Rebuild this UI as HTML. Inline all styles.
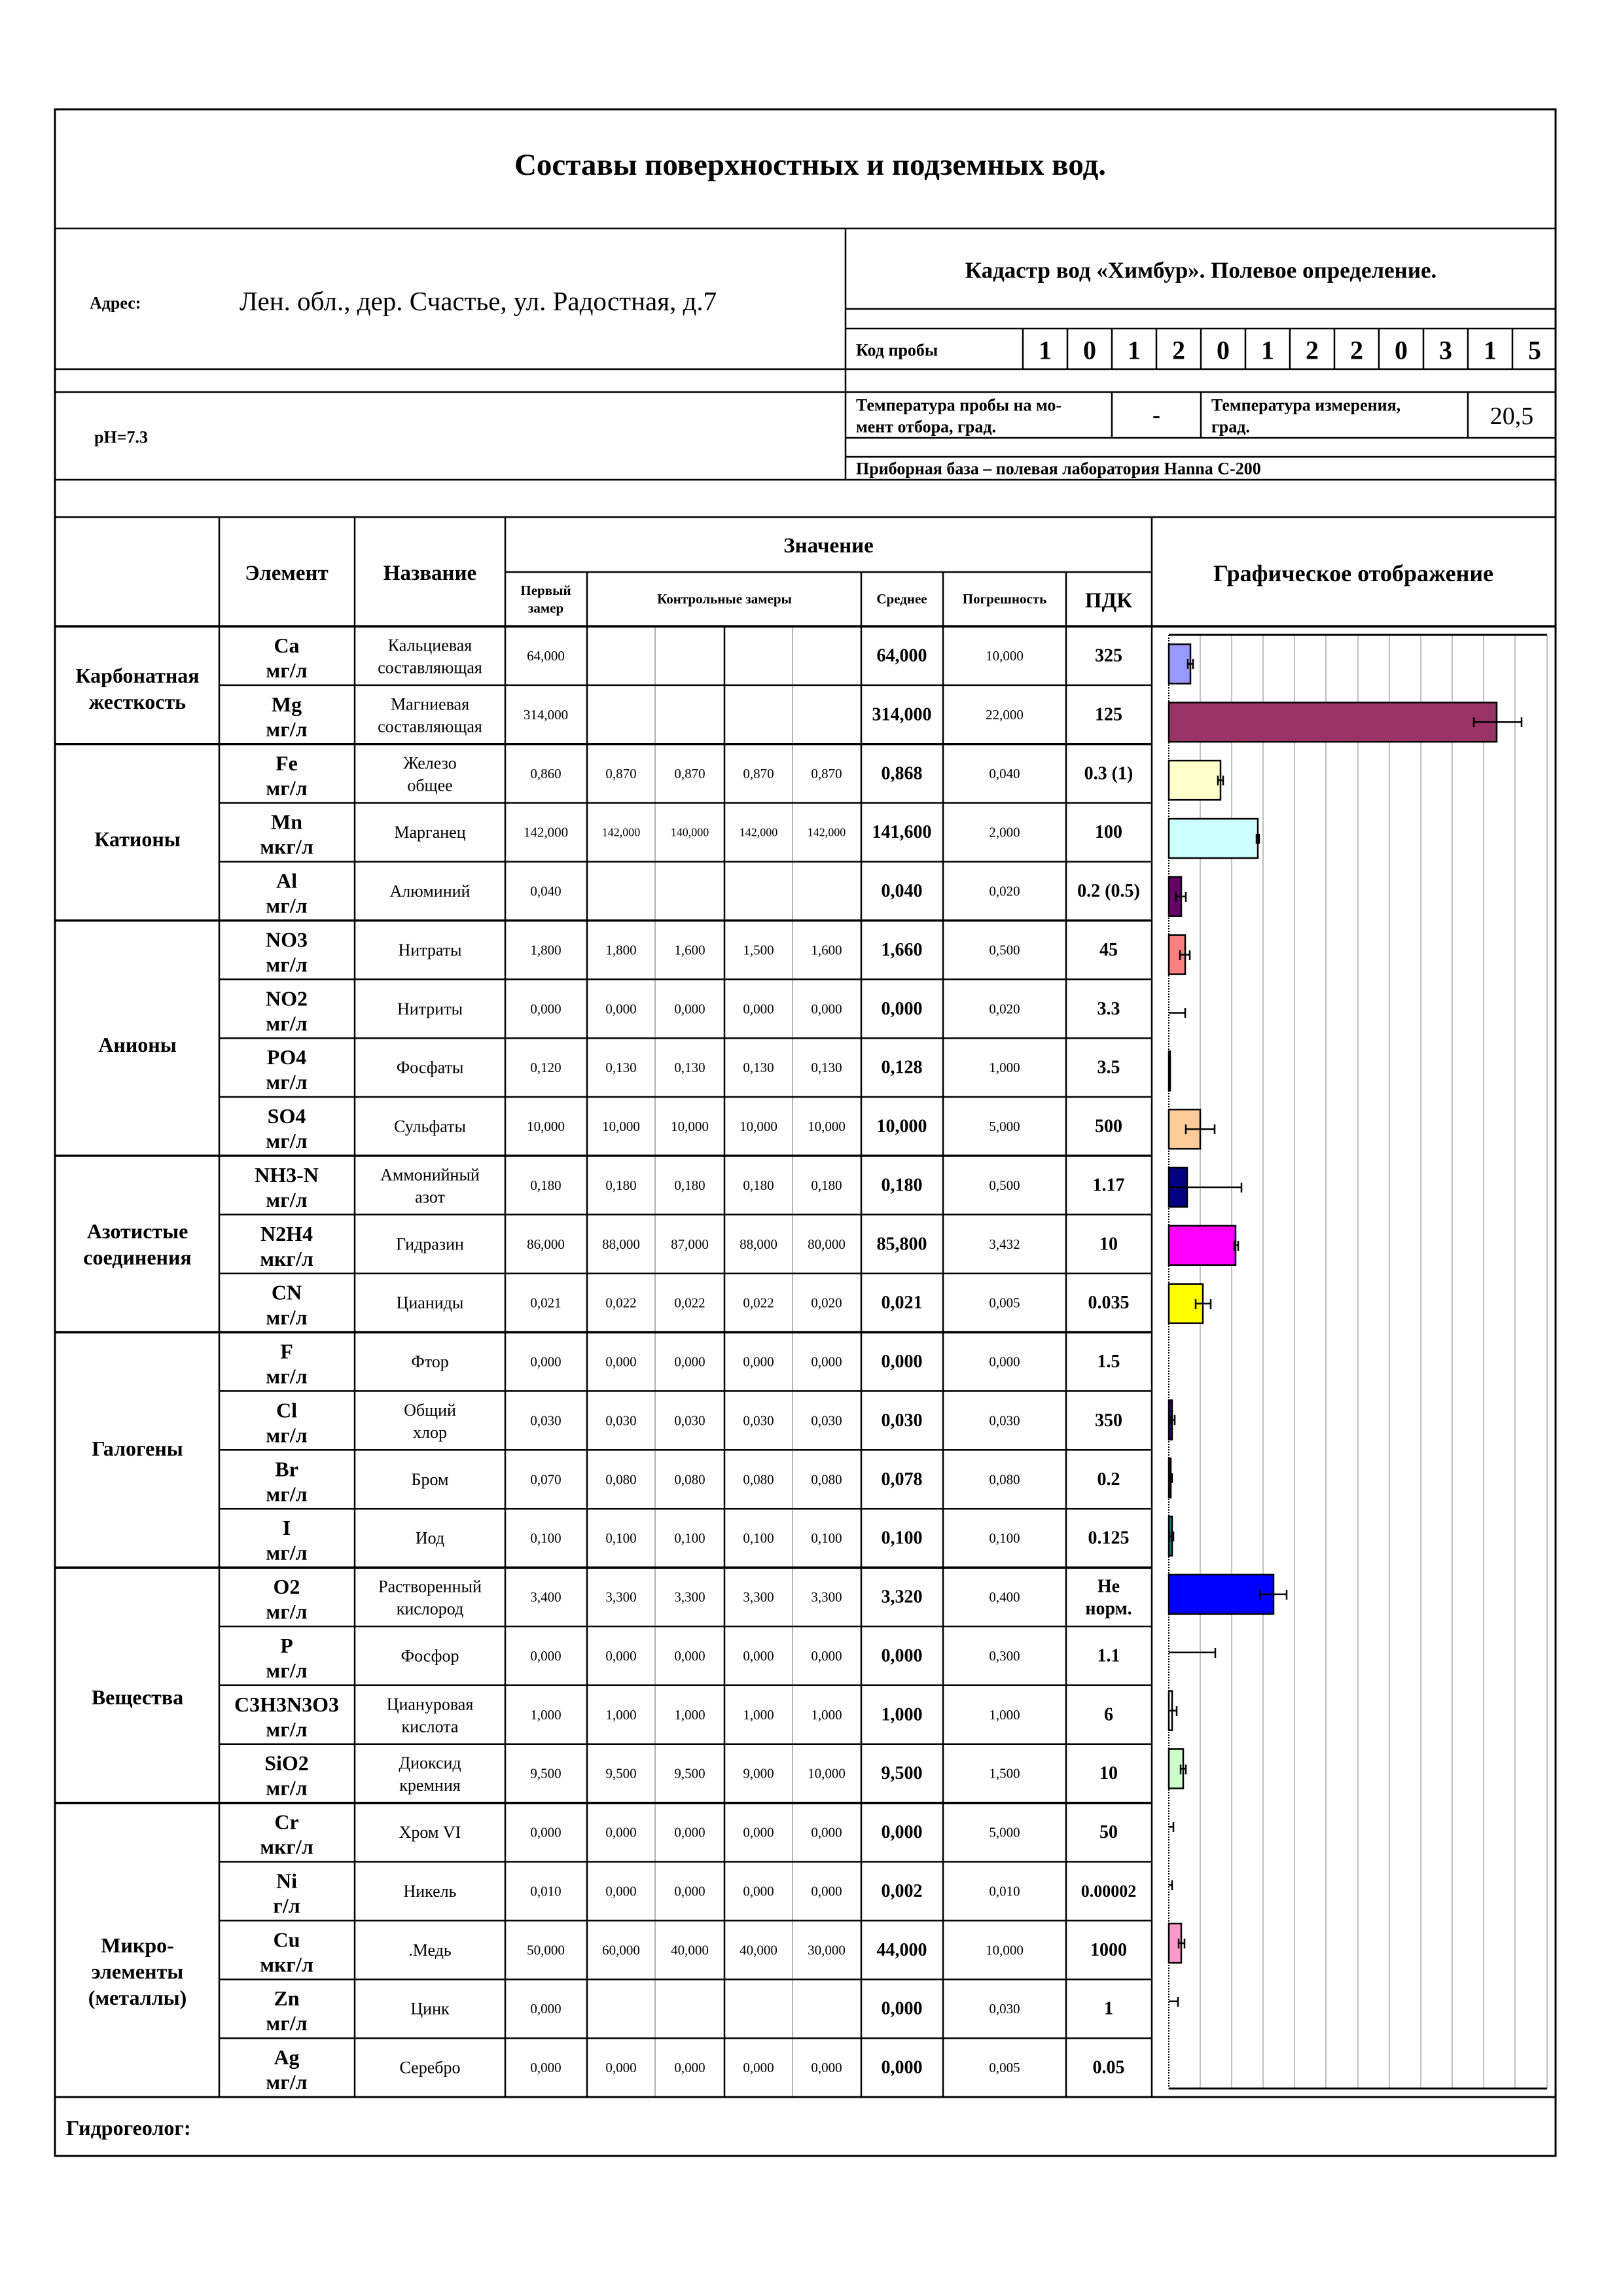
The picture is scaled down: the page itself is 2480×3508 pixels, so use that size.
<!DOCTYPE html>
<html><head><meta charset="utf-8"><style>
html,body{margin:0;padding:0;background:#fff}
svg{display:block}
text{font-family:"Liberation Serif",serif;fill:#000;dominant-baseline:central;text-anchor:middle}
.b{font-weight:bold}
</style></head><body>
<svg width="2480" height="3508" viewBox="0 0 2480 3508" xmlns="http://www.w3.org/2000/svg">
<g stroke="#000" stroke-width="2.5" fill="none">
<rect x="84" y="167" width="2293" height="3127" stroke-width="3"/>
<line x1="84" y1="349" x2="2377" y2="349"/>
<line x1="1292" y1="349" x2="1292" y2="733"/>
<line x1="1292" y1="472" x2="2377" y2="472"/>
<line x1="1292" y1="502" x2="2377" y2="502"/>
<line x1="84" y1="564" x2="2377" y2="564"/>
<line x1="84" y1="599" x2="2377" y2="599"/>
<line x1="1292" y1="669" x2="2377" y2="669"/>
<line x1="1292" y1="698" x2="2377" y2="698"/>
<line x1="84" y1="733" x2="2377" y2="733"/>
<line x1="84" y1="790" x2="2377" y2="790"/>
<line x1="1563" y1="502" x2="1563" y2="564"/>
<line x1="1631" y1="502" x2="1631" y2="564"/><line x1="1699" y1="502" x2="1699" y2="564"/><line x1="1767" y1="502" x2="1767" y2="564"/><line x1="1835" y1="502" x2="1835" y2="564"/><line x1="1903" y1="502" x2="1903" y2="564"/><line x1="1971" y1="502" x2="1971" y2="564"/><line x1="2039" y1="502" x2="2039" y2="564"/><line x1="2107" y1="502" x2="2107" y2="564"/><line x1="2175" y1="502" x2="2175" y2="564"/><line x1="2243" y1="502" x2="2243" y2="564"/><line x1="2311" y1="502" x2="2311" y2="564"/>
<line x1="1699" y1="599" x2="1699" y2="669"/><line x1="1835" y1="599" x2="1835" y2="669"/><line x1="2243" y1="599" x2="2243" y2="669"/>
<line x1="335" y1="790" x2="335" y2="3204"/>
<line x1="542" y1="790" x2="542" y2="3204"/>
<line x1="772" y1="790" x2="772" y2="3204"/>
<line x1="772" y1="874" x2="1760" y2="874"/>
<line x1="897" y1="874" x2="897" y2="3204"/>
<line x1="1316" y1="874" x2="1316" y2="3204"/>
<line x1="1441" y1="874" x2="1441" y2="3204"/>
<line x1="1629" y1="874" x2="1629" y2="3204"/>
<line x1="1760" y1="790" x2="1760" y2="3204"/>
<g stroke="#999" stroke-width="1.5"><line x1="1001" y1="957" x2="1001" y2="3204"/><line x1="1211" y1="957" x2="1211" y2="3204"/></g>
<line x1="1107" y1="957" x2="1107" y2="3204"/>
<line x1="84" y1="957" x2="2377" y2="957" stroke-width="3.5"/>
<g>
<line x1="335" y1="1046.9" x2="1760" y2="1046.9"/>
<line x1="335" y1="1226.6" x2="1760" y2="1226.6"/><line x1="335" y1="1316.5" x2="1760" y2="1316.5"/>
<line x1="335" y1="1496.3" x2="1760" y2="1496.3"/><line x1="335" y1="1586.2" x2="1760" y2="1586.2"/><line x1="335" y1="1676" x2="1760" y2="1676"/>
<line x1="335" y1="1855.8" x2="1760" y2="1855.8"/><line x1="335" y1="1945.7" x2="1760" y2="1945.7"/>
<line x1="335" y1="2125.4" x2="1760" y2="2125.4"/><line x1="335" y1="2215.3" x2="1760" y2="2215.3"/><line x1="335" y1="2305.2" x2="1760" y2="2305.2"/>
<line x1="335" y1="2485" x2="1760" y2="2485"/><line x1="335" y1="2574.8" x2="1760" y2="2574.8"/><line x1="335" y1="2664.7" x2="1760" y2="2664.7"/>
<line x1="335" y1="2844.5" x2="1760" y2="2844.5"/><line x1="335" y1="2934.4" x2="1760" y2="2934.4"/><line x1="335" y1="3024.2" x2="1760" y2="3024.2"/><line x1="335" y1="3114.1" x2="1760" y2="3114.1"/>
</g>
<g stroke-width="3.5">
<line x1="84" y1="1136.8" x2="1760" y2="1136.8"/><line x1="84" y1="1406.4" x2="1760" y2="1406.4"/><line x1="84" y1="1765.9" x2="1760" y2="1765.9"/><line x1="84" y1="2035.6" x2="1760" y2="2035.6"/><line x1="84" y1="2395.1" x2="1760" y2="2395.1"/><line x1="84" y1="2754.6" x2="1760" y2="2754.6"/>
</g>
<line x1="84" y1="3204" x2="2377" y2="3204" stroke-width="3"/>
</g>
<g stroke="#c0c0c0" stroke-width="2">
<line x1="1834" y1="970" x2="1834" y2="3191"/><line x1="1882" y1="970" x2="1882" y2="3191"/><line x1="1930" y1="970" x2="1930" y2="3191"/><line x1="1978" y1="970" x2="1978" y2="3191"/><line x1="2026" y1="970" x2="2026" y2="3191"/><line x1="2075" y1="970" x2="2075" y2="3191"/><line x1="2123" y1="970" x2="2123" y2="3191"/><line x1="2171" y1="970" x2="2171" y2="3191"/><line x1="2219" y1="970" x2="2219" y2="3191"/><line x1="2267" y1="970" x2="2267" y2="3191"/><line x1="2315" y1="970" x2="2315" y2="3191"/><line x1="2364" y1="970" x2="2364" y2="3191"/>
</g>
<line x1="1786" y1="970" x2="2364" y2="970" stroke="#000" stroke-width="3"/>
<line x1="1786" y1="3191" x2="2364" y2="3191" stroke="#000" stroke-width="3"/>
<line x1="1786" y1="970" x2="1786" y2="3191" stroke="#000" stroke-width="2" stroke-dasharray="2,2"/>
<g stroke="#000" stroke-width="2.5">
<rect x="1786" y="984.4" width="33" height="60" fill="#9999ff"/>
<rect x="1786" y="1073.3" width="501" height="60" fill="#993366"/>
<rect x="1786" y="1162.1" width="79" height="60" fill="#ffffcc"/>
<rect x="1786" y="1251" width="136" height="60" fill="#ccffff"/>
<rect x="1786" y="1339.8" width="19" height="60" fill="#660066"/>
<rect x="1786" y="1428.6" width="25" height="60" fill="#ff8080"/>
<rect x="1786" y="1606.3" width="2" height="60" fill="#fff"/>
<rect x="1786" y="1695.2" width="48" height="60" fill="#ffcc99"/>
<rect x="1786" y="1784" width="28" height="60" fill="#000080"/>
<rect x="1786" y="1872.8" width="102" height="60" fill="#ff00ff"/>
<rect x="1786" y="1961.7" width="52" height="60" fill="#ffff00"/>
<rect x="1786" y="2139.4" width="5" height="60" fill="#330066"/>
<rect x="1786" y="2228.2" width="3" height="60" fill="#800000"/>
<rect x="1786" y="2317" width="5" height="60" fill="#008080"/>
<rect x="1786" y="2405.9" width="160" height="60" fill="#0000ff"/>
<rect x="1786" y="2583.6" width="5" height="60" fill="#fff"/>
<rect x="1786" y="2672.4" width="22" height="60" fill="#ccffcc"/>
<rect x="1786" y="2939" width="19" height="60" fill="#ff99cc"/>
</g>
<g stroke="#000" stroke-width="2.5" fill="none">
<path d="M1815 1014.4H1823M1815 1007v15M1823 1007v15"/>
<path d="M2252 1103.3H2325M2252 1096v15M2325 1096v15"/>
<path d="M1861 1192.1H1869M1861 1185v15M1869 1185v15"/>
<path d="M1920 1281H1924M1920 1274v15M1924 1274v15"/>
<path d="M1797 1369.8H1812M1797 1363v15M1812 1363v15"/>
<path d="M1803 1458.6H1818M1803 1452v15M1818 1452v15"/>
<path d="M1786 1547.5H1811M1811 1540v15"/>
<path d="M1812 1725.2H1856M1812 1718v15M1856 1718v15"/>
<path d="M1786 1814H1897M1897 1807v15"/>
<path d="M1886 1902.8H1892M1886 1896v15M1892 1896v15"/>
<path d="M1827 1991.7H1850M1827 1985v15M1850 1985v15"/>
<path d="M1789 2169.4H1795M1789 2162v15M1795 2162v15"/>
<path d="M1787 2258.2H1791M1787 2251v15M1791 2251v15"/>
<path d="M1787 2347H1793M1787 2340v15M1793 2340v15"/>
<path d="M1925 2435.9H1966M1925 2429v15M1966 2429v15"/>
<path d="M1786 2524.7H1857M1857 2518v15"/>
<path d="M1786 2613.6H1798M1798 2607v15"/>
<path d="M1804 2702.4H1812M1804 2696v15M1812 2696v15"/>
<path d="M1786 2791.2H1793M1793 2784v15"/>
<path d="M1786 2880.1H1791M1791 2873v15"/>
<path d="M1801 2969H1810M1801 2962v15M1810 2962v15"/>
<path d="M1786 3057.8H1800M1800 3051v15"/>
</g>
<text x="1238" y="252" class="b" font-size="47">Составы поверхностных и подземных вод.</text>
<text x="137" y="463" class="b" font-size="26" style="text-anchor:start">Адрес:</text>
<text x="366" y="460" font-size="41" style="text-anchor:start">Лен. обл., дер. Счастье, ул. Радостная, д.7</text>
<text x="1835" y="413" class="b" font-size="35">Кадастр вод «Химбур». Полевое определение.</text>
<text x="1308" y="535" class="b" font-size="26" style="text-anchor:start">Код пробы</text>
<g class="b" font-size="40">
<text x="1597" y="535">1</text><text x="1665" y="535">0</text><text x="1733" y="535">1</text><text x="1801" y="535">2</text><text x="1869" y="535">0</text><text x="1937" y="535">1</text><text x="2005" y="535">2</text><text x="2073" y="535">2</text><text x="2141" y="535">0</text><text x="2209" y="535">3</text><text x="2277" y="535">1</text><text x="2345" y="535">5</text>
</g>
<g class="b" font-size="26" style="text-anchor:start">
<text x="1308" y="619" style="text-anchor:start">Температура пробы на мо-</text>
<text x="1308" y="652" style="text-anchor:start">мент отбора, град.</text>
<text x="1851" y="619" style="text-anchor:start">Температура измерения,</text>
<text x="1851" y="652" style="text-anchor:start">град.</text>
<text x="1308" y="716" style="text-anchor:start">Приборная база – полевая лаборатория Hanna C-200</text>
</g>
<text x="1767" y="634" class="b" font-size="36">-</text>
<text x="2310" y="636" font-size="38">20,5</text>
<text x="144" y="668" class="b" font-size="26" style="text-anchor:start">pH=7.3</text>
<text x="1266" y="834" class="b" font-size="33">Значение</text>
<text x="438" y="876" class="b" font-size="33">Элемент</text>
<text x="657" y="876" class="b" font-size="33">Название</text>
<text x="2068" y="876" class="b" font-size="36">Графическое отображение</text>
<g class="b" font-size="21">
<text x="834" y="902">Первый</text><text x="834" y="929">замер</text>
<text x="1107" y="915">Контрольные замеры</text>
<text x="1378" y="915">Среднее</text>
<text x="1535" y="915">Погрешность</text>
</g>
<text x="1694" y="918" class="b" font-size="33">ПДК</text>
<g class="b" font-size="32">
<text x="210" y="1032">Карбонатная</text><text x="210" y="1072">жесткость</text>
<text x="210" y="1282">Катионы</text>
<text x="210" y="1596">Анионы</text>
<text x="210" y="1881">Азотистые</text><text x="210" y="1921">соединения</text>
<text x="210" y="2213">Галогены</text>
<text x="210" y="2593">Вещества</text>
<text x="210" y="2972">Микро-</text><text x="210" y="3012">элементы</text><text x="210" y="3052">(металлы)</text>
</g>
<text x="101" y="3251" class="b" font-size="32" style="text-anchor:start">Гидрогеолог:</text>
<g id="rows">
<g transform="translate(0,957)"><text x="438" y="29" class="b" font-size="32">Ca</text><text x="438" y="67" class="b" font-size="32">мг/л</text><text x="657" y="29" font-size="26">Кальциевая</text><text x="657" y="63" font-size="26">составляющая</text><text x="834" y="45" font-size="21">64,000</text><text x="1378" y="45" class="b" font-size="28">64,000</text><text x="1535" y="45" font-size="21">10,000</text><text x="1694" y="45" class="b" font-size="28">325</text></g>
<g transform="translate(0,1046.9)"><text x="438" y="29" class="b" font-size="32">Mg</text><text x="438" y="67" class="b" font-size="32">мг/л</text><text x="657" y="29" font-size="26">Магниевая</text><text x="657" y="63" font-size="26">составляющая</text><text x="834" y="45" font-size="21">314,000</text><text x="1378" y="45" class="b" font-size="28">314,000</text><text x="1535" y="45" font-size="21">22,000</text><text x="1694" y="45" class="b" font-size="28">125</text></g>
<g transform="translate(0,1136.8)"><text x="438" y="29" class="b" font-size="32">Fe</text><text x="438" y="67" class="b" font-size="32">мг/л</text><text x="657" y="29" font-size="26">Железо</text><text x="657" y="63" font-size="26">общее</text><text x="834" y="45" font-size="21">0,860</text><text x="949" y="45" font-size="21">0,870</text><text x="1054" y="45" font-size="21">0,870</text><text x="1159" y="45" font-size="21">0,870</text><text x="1263" y="45" font-size="21">0,870</text><text x="1378" y="45" class="b" font-size="28">0,868</text><text x="1535" y="45" font-size="21">0,040</text><text x="1694" y="45" class="b" font-size="28">0.3 (1)</text></g>
<g transform="translate(0,1226.6)"><text x="438" y="29" class="b" font-size="32">Mn</text><text x="438" y="67" class="b" font-size="32">мкг/л</text><text x="657" y="45" font-size="26">Марганец</text><text x="834" y="45" font-size="21">142,000</text><text x="949" y="45" font-size="18">142,000</text><text x="1054" y="45" font-size="18">140,000</text><text x="1159" y="45" font-size="18">142,000</text><text x="1263" y="45" font-size="18">142,000</text><text x="1378" y="45" class="b" font-size="28">141,600</text><text x="1535" y="45" font-size="21">2,000</text><text x="1694" y="45" class="b" font-size="28">100</text></g>
<g transform="translate(0,1316.5)"><text x="438" y="29" class="b" font-size="32">Al</text><text x="438" y="67" class="b" font-size="32">мг/л</text><text x="657" y="45" font-size="26">Алюминий</text><text x="834" y="45" font-size="21">0,040</text><text x="1378" y="45" class="b" font-size="28">0,040</text><text x="1535" y="45" font-size="21">0,020</text><text x="1694" y="45" class="b" font-size="28">0.2 (0.5)</text></g>
<g transform="translate(0,1406.4)"><text x="438" y="29" class="b" font-size="32">NO3</text><text x="438" y="67" class="b" font-size="32">мг/л</text><text x="657" y="45" font-size="26">Нитраты</text><text x="834" y="45" font-size="21">1,800</text><text x="949" y="45" font-size="21">1,800</text><text x="1054" y="45" font-size="21">1,600</text><text x="1159" y="45" font-size="21">1,500</text><text x="1263" y="45" font-size="21">1,600</text><text x="1378" y="45" class="b" font-size="28">1,660</text><text x="1535" y="45" font-size="21">0,500</text><text x="1694" y="45" class="b" font-size="28">45</text></g>
<g transform="translate(0,1496.3)"><text x="438" y="29" class="b" font-size="32">NO2</text><text x="438" y="67" class="b" font-size="32">мг/л</text><text x="657" y="45" font-size="26">Нитриты</text><text x="834" y="45" font-size="21">0,000</text><text x="949" y="45" font-size="21">0,000</text><text x="1054" y="45" font-size="21">0,000</text><text x="1159" y="45" font-size="21">0,000</text><text x="1263" y="45" font-size="21">0,000</text><text x="1378" y="45" class="b" font-size="28">0,000</text><text x="1535" y="45" font-size="21">0,020</text><text x="1694" y="45" class="b" font-size="28">3.3</text></g>
<g transform="translate(0,1586.2)"><text x="438" y="29" class="b" font-size="32">PO4</text><text x="438" y="67" class="b" font-size="32">мг/л</text><text x="657" y="45" font-size="26">Фосфаты</text><text x="834" y="45" font-size="21">0,120</text><text x="949" y="45" font-size="21">0,130</text><text x="1054" y="45" font-size="21">0,130</text><text x="1159" y="45" font-size="21">0,130</text><text x="1263" y="45" font-size="21">0,130</text><text x="1378" y="45" class="b" font-size="28">0,128</text><text x="1535" y="45" font-size="21">1,000</text><text x="1694" y="45" class="b" font-size="28">3.5</text></g>
<g transform="translate(0,1676)"><text x="438" y="29" class="b" font-size="32">SO4</text><text x="438" y="67" class="b" font-size="32">мг/л</text><text x="657" y="45" font-size="26">Сульфаты</text><text x="834" y="45" font-size="21">10,000</text><text x="949" y="45" font-size="21">10,000</text><text x="1054" y="45" font-size="21">10,000</text><text x="1159" y="45" font-size="21">10,000</text><text x="1263" y="45" font-size="21">10,000</text><text x="1378" y="45" class="b" font-size="28">10,000</text><text x="1535" y="45" font-size="21">5,000</text><text x="1694" y="45" class="b" font-size="28">500</text></g>
<g transform="translate(0,1765.9)"><text x="438" y="29" class="b" font-size="32">NH3-N</text><text x="438" y="67" class="b" font-size="32">мг/л</text><text x="657" y="29" font-size="26">Аммонийный</text><text x="657" y="63" font-size="26">азот</text><text x="834" y="45" font-size="21">0,180</text><text x="949" y="45" font-size="21">0,180</text><text x="1054" y="45" font-size="21">0,180</text><text x="1159" y="45" font-size="21">0,180</text><text x="1263" y="45" font-size="21">0,180</text><text x="1378" y="45" class="b" font-size="28">0,180</text><text x="1535" y="45" font-size="21">0,500</text><text x="1694" y="45" class="b" font-size="28">1.17</text></g>
<g transform="translate(0,1855.8)"><text x="438" y="29" class="b" font-size="32">N2H4</text><text x="438" y="67" class="b" font-size="32">мкг/л</text><text x="657" y="45" font-size="26">Гидразин</text><text x="834" y="45" font-size="21">86,000</text><text x="949" y="45" font-size="21">88,000</text><text x="1054" y="45" font-size="21">87,000</text><text x="1159" y="45" font-size="21">88,000</text><text x="1263" y="45" font-size="21">80,000</text><text x="1378" y="45" class="b" font-size="28">85,800</text><text x="1535" y="45" font-size="21">3,432</text><text x="1694" y="45" class="b" font-size="28">10</text></g>
<g transform="translate(0,1945.7)"><text x="438" y="29" class="b" font-size="32">CN</text><text x="438" y="67" class="b" font-size="32">мг/л</text><text x="657" y="45" font-size="26">Цианиды</text><text x="834" y="45" font-size="21">0,021</text><text x="949" y="45" font-size="21">0,022</text><text x="1054" y="45" font-size="21">0,022</text><text x="1159" y="45" font-size="21">0,022</text><text x="1263" y="45" font-size="21">0,020</text><text x="1378" y="45" class="b" font-size="28">0,021</text><text x="1535" y="45" font-size="21">0,005</text><text x="1694" y="45" class="b" font-size="28">0.035</text></g>
<g transform="translate(0,2035.6)"><text x="438" y="29" class="b" font-size="32">F</text><text x="438" y="67" class="b" font-size="32">мг/л</text><text x="657" y="45" font-size="26">Фтор</text><text x="834" y="45" font-size="21">0,000</text><text x="949" y="45" font-size="21">0,000</text><text x="1054" y="45" font-size="21">0,000</text><text x="1159" y="45" font-size="21">0,000</text><text x="1263" y="45" font-size="21">0,000</text><text x="1378" y="45" class="b" font-size="28">0,000</text><text x="1535" y="45" font-size="21">0,000</text><text x="1694" y="45" class="b" font-size="28">1.5</text></g>
<g transform="translate(0,2125.4)"><text x="438" y="29" class="b" font-size="32">Cl</text><text x="438" y="67" class="b" font-size="32">мг/л</text><text x="657" y="29" font-size="26">Общий</text><text x="657" y="63" font-size="26">хлор</text><text x="834" y="45" font-size="21">0,030</text><text x="949" y="45" font-size="21">0,030</text><text x="1054" y="45" font-size="21">0,030</text><text x="1159" y="45" font-size="21">0,030</text><text x="1263" y="45" font-size="21">0,030</text><text x="1378" y="45" class="b" font-size="28">0,030</text><text x="1535" y="45" font-size="21">0,030</text><text x="1694" y="45" class="b" font-size="28">350</text></g>
<g transform="translate(0,2215.3)"><text x="438" y="29" class="b" font-size="32">Br</text><text x="438" y="67" class="b" font-size="32">мг/л</text><text x="657" y="45" font-size="26">Бром</text><text x="834" y="45" font-size="21">0,070</text><text x="949" y="45" font-size="21">0,080</text><text x="1054" y="45" font-size="21">0,080</text><text x="1159" y="45" font-size="21">0,080</text><text x="1263" y="45" font-size="21">0,080</text><text x="1378" y="45" class="b" font-size="28">0,078</text><text x="1535" y="45" font-size="21">0,080</text><text x="1694" y="45" class="b" font-size="28">0.2</text></g>
<g transform="translate(0,2305.2)"><text x="438" y="29" class="b" font-size="32">I</text><text x="438" y="67" class="b" font-size="32">мг/л</text><text x="657" y="45" font-size="26">Иод</text><text x="834" y="45" font-size="21">0,100</text><text x="949" y="45" font-size="21">0,100</text><text x="1054" y="45" font-size="21">0,100</text><text x="1159" y="45" font-size="21">0,100</text><text x="1263" y="45" font-size="21">0,100</text><text x="1378" y="45" class="b" font-size="28">0,100</text><text x="1535" y="45" font-size="21">0,100</text><text x="1694" y="45" class="b" font-size="28">0.125</text></g>
<g transform="translate(0,2395.1)"><text x="438" y="29" class="b" font-size="32">O2</text><text x="438" y="67" class="b" font-size="32">мг/л</text><text x="657" y="29" font-size="26">Растворенный</text><text x="657" y="63" font-size="26">кислород</text><text x="834" y="45" font-size="21">3,400</text><text x="949" y="45" font-size="21">3,300</text><text x="1054" y="45" font-size="21">3,300</text><text x="1159" y="45" font-size="21">3,300</text><text x="1263" y="45" font-size="21">3,300</text><text x="1378" y="45" class="b" font-size="28">3,320</text><text x="1535" y="45" font-size="21">0,400</text><text x="1694" y="29" class="b" font-size="28">Не</text><text x="1694" y="63" class="b" font-size="28">норм.</text></g>
<g transform="translate(0,2485)"><text x="438" y="29" class="b" font-size="32">P</text><text x="438" y="67" class="b" font-size="32">мг/л</text><text x="657" y="45" font-size="26">Фосфор</text><text x="834" y="45" font-size="21">0,000</text><text x="949" y="45" font-size="21">0,000</text><text x="1054" y="45" font-size="21">0,000</text><text x="1159" y="45" font-size="21">0,000</text><text x="1263" y="45" font-size="21">0,000</text><text x="1378" y="45" class="b" font-size="28">0,000</text><text x="1535" y="45" font-size="21">0,300</text><text x="1694" y="45" class="b" font-size="28">1.1</text></g>
<g transform="translate(0,2574.8)"><text x="438" y="29" class="b" font-size="32">C3H3N3O3</text><text x="438" y="67" class="b" font-size="32">мг/л</text><text x="657" y="29" font-size="26">Циануровая</text><text x="657" y="63" font-size="26">кислота</text><text x="834" y="45" font-size="21">1,000</text><text x="949" y="45" font-size="21">1,000</text><text x="1054" y="45" font-size="21">1,000</text><text x="1159" y="45" font-size="21">1,000</text><text x="1263" y="45" font-size="21">1,000</text><text x="1378" y="45" class="b" font-size="28">1,000</text><text x="1535" y="45" font-size="21">1,000</text><text x="1694" y="45" class="b" font-size="28">6</text></g>
<g transform="translate(0,2664.7)"><text x="438" y="29" class="b" font-size="32">SiO2</text><text x="438" y="67" class="b" font-size="32">мг/л</text><text x="657" y="29" font-size="26">Диоксид</text><text x="657" y="63" font-size="26">кремния</text><text x="834" y="45" font-size="21">9,500</text><text x="949" y="45" font-size="21">9,500</text><text x="1054" y="45" font-size="21">9,500</text><text x="1159" y="45" font-size="21">9,000</text><text x="1263" y="45" font-size="21">10,000</text><text x="1378" y="45" class="b" font-size="28">9,500</text><text x="1535" y="45" font-size="21">1,500</text><text x="1694" y="45" class="b" font-size="28">10</text></g>
<g transform="translate(0,2754.6)"><text x="438" y="29" class="b" font-size="32">Cr</text><text x="438" y="67" class="b" font-size="32">мкг/л</text><text x="657" y="45" font-size="26">Хром VI</text><text x="834" y="45" font-size="21">0,000</text><text x="949" y="45" font-size="21">0,000</text><text x="1054" y="45" font-size="21">0,000</text><text x="1159" y="45" font-size="21">0,000</text><text x="1263" y="45" font-size="21">0,000</text><text x="1378" y="45" class="b" font-size="28">0,000</text><text x="1535" y="45" font-size="21">5,000</text><text x="1694" y="45" class="b" font-size="28">50</text></g>
<g transform="translate(0,2844.5)"><text x="438" y="29" class="b" font-size="32">Ni</text><text x="438" y="67" class="b" font-size="32">г/л</text><text x="657" y="45" font-size="26">Никель</text><text x="834" y="45" font-size="21">0,010</text><text x="949" y="45" font-size="21">0,000</text><text x="1054" y="45" font-size="21">0,000</text><text x="1159" y="45" font-size="21">0,000</text><text x="1263" y="45" font-size="21">0,000</text><text x="1378" y="45" class="b" font-size="28">0,002</text><text x="1535" y="45" font-size="21">0,010</text><text x="1694" y="45" class="b" font-size="26">0.00002</text></g>
<g transform="translate(0,2934.4)"><text x="438" y="29" class="b" font-size="32">Cu</text><text x="438" y="67" class="b" font-size="32">мкг/л</text><text x="657" y="45" font-size="26">.Медь</text><text x="834" y="45" font-size="21">50,000</text><text x="949" y="45" font-size="21">60,000</text><text x="1054" y="45" font-size="21">40,000</text><text x="1159" y="45" font-size="21">40,000</text><text x="1263" y="45" font-size="21">30,000</text><text x="1378" y="45" class="b" font-size="28">44,000</text><text x="1535" y="45" font-size="21">10,000</text><text x="1694" y="45" class="b" font-size="28">1000</text></g>
<g transform="translate(0,3024.2)"><text x="438" y="29" class="b" font-size="32">Zn</text><text x="438" y="67" class="b" font-size="32">мг/л</text><text x="657" y="45" font-size="26">Цинк</text><text x="834" y="45" font-size="21">0,000</text><text x="1378" y="45" class="b" font-size="28">0,000</text><text x="1535" y="45" font-size="21">0,030</text><text x="1694" y="45" class="b" font-size="28">1</text></g>
<g transform="translate(0,3114.1)"><text x="438" y="29" class="b" font-size="32">Ag</text><text x="438" y="67" class="b" font-size="32">мг/л</text><text x="657" y="45" font-size="26">Серебро</text><text x="834" y="45" font-size="21">0,000</text><text x="949" y="45" font-size="21">0,000</text><text x="1054" y="45" font-size="21">0,000</text><text x="1159" y="45" font-size="21">0,000</text><text x="1263" y="45" font-size="21">0,000</text><text x="1378" y="45" class="b" font-size="28">0,000</text><text x="1535" y="45" font-size="21">0,005</text><text x="1694" y="45" class="b" font-size="28">0.05</text></g>
</g>
</svg>
</body></html>
